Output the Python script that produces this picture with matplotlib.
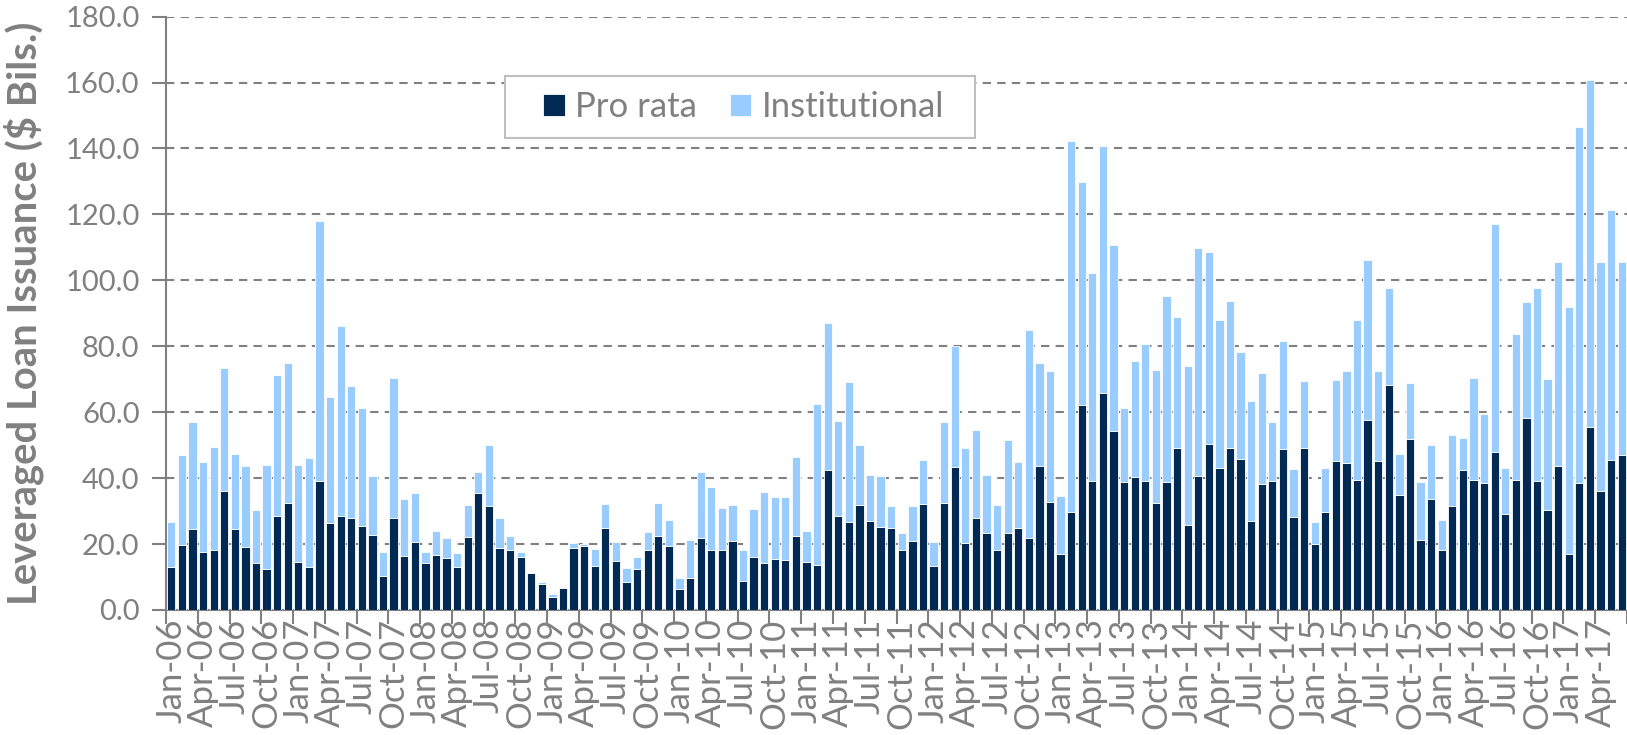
import numpy as np
import pandas as pd
import matplotlib
matplotlib.use('Agg')
import matplotlib.pyplot as plt
from matplotlib.patches import Rectangle
from matplotlib.ticker import FormatStrFormatter

# monthly categories, Jan-06 .. Jun-17
months = pd.date_range('2006-01-01', periods=138, freq='MS')
month_labels = [m.strftime('%b-%y') for m in months]

# $ billions
pro_rata = [
    13.0, 19.6, 24.5, 17.7, 18.1, 36.2, 24.5, 19.0, 14.2, 12.4, 28.6, 32.6,
    14.7, 13.0, 39.0, 26.5, 28.4, 27.8, 25.5, 22.9, 10.3, 27.9, 16.4, 20.7,
    14.2, 16.7, 15.9, 12.9, 22.0, 35.4, 31.6, 18.9, 18.3, 16.1, 11.1, 7.8,
    4.0, 6.6, 18.8, 19.3, 13.2, 24.8, 14.9, 8.4, 12.4, 18.3, 22.3, 19.3,
    6.3, 9.6, 21.9, 18.3, 18.1, 20.8, 8.9, 16.1, 14.4, 15.5, 15.3, 22.3,
    14.7, 13.7, 42.5, 28.4, 26.6, 31.9, 27.1, 25.2, 25.0, 18.1, 20.8, 32.1,
    13.2, 32.6, 43.4, 20.2, 27.9, 23.5, 18.1, 23.5, 24.8, 21.9, 43.7, 32.9,
    17.1, 29.8, 62.1, 39.0, 65.9, 54.2, 38.7, 40.2, 39.0, 32.5, 38.7, 49.2,
    25.9, 40.7, 50.4, 43.1, 49.2, 45.8, 27.1, 38.1, 39.1, 48.7, 28.2, 49.2,
    20.0, 29.8, 45.2, 44.6, 39.5, 57.5, 45.1, 68.1, 34.9, 51.9, 21.3, 33.8,
    18.3, 31.6, 42.4, 39.5, 38.4, 47.8, 29.2, 39.4, 58.1, 39.0, 30.4, 43.6,
    17.1, 38.4, 55.6, 36.1, 45.4, 47.0,
]
institutional = [
    13.7, 27.3, 32.5, 27.2, 31.4, 37.2, 22.9, 24.6, 16.0, 31.6, 42.6, 42.3,
    29.3, 33.1, 78.9, 38.1, 57.8, 40.1, 35.8, 17.7, 7.4, 42.6, 17.3, 14.9,
    3.4, 7.4, 5.8, 4.4, 9.8, 6.4, 18.3, 9.0, 4.0, 1.5, 0.2, 0.7,
    0.8, 0.5, 1.4, 0.7, 5.3, 7.5, 5.7, 4.4, 3.7, 5.5, 10.2, 8.1,
    3.3, 11.7, 20.0, 19.1, 12.9, 11.1, 9.2, 14.6, 21.5, 18.8, 19.0, 24.1,
    9.2, 48.8, 44.5, 28.9, 42.7, 18.0, 13.9, 15.4, 6.4, 5.2, 10.8, 13.3,
    7.4, 24.3, 36.6, 28.8, 26.6, 17.5, 13.8, 28.0, 20.1, 63.1, 31.2, 39.7,
    17.4, 112.4, 67.6, 63.3, 74.7, 56.5, 22.6, 35.4, 41.6, 40.2, 56.6, 39.7,
    48.2, 69.0, 58.3, 45.0, 44.5, 32.4, 36.3, 33.7, 17.9, 32.8, 14.6, 20.2,
    6.8, 13.4, 24.5, 27.8, 48.5, 48.8, 27.3, 29.5, 12.5, 17.1, 17.6, 16.1,
    9.0, 21.5, 9.9, 30.9, 21.2, 69.2, 14.0, 44.4, 35.2, 58.8, 39.6, 62.1,
    74.8, 108.2, 105.3, 69.6, 75.9, 58.7,
]

plt.rcParams['font.family'] = ['Lato', 'DejaVu Sans']
grey = '#808080'
dark = '#002A54'
light = '#99CCFF'

W, H = 1627, 735
fig = plt.figure(figsize=(W / 100, H / 100), dpi=100)
ax = fig.add_axes([166 / W, (H - 610) / H, (W - 166) / W, (610 - 16.6) / H])

x = np.arange(len(months))
ax.bar(x, pro_rata, width=0.78, color=dark, edgecolor='white', linewidth=0.6,
       label='Pro rata', zorder=3)
ax.bar(x, institutional, bottom=pro_rata, width=0.78, color=light,
       edgecolor='white', linewidth=0.6, label='Institutional', zorder=3)

ax.set_xlim(-0.5, len(months) - 0.5)
ax.set_ylim(0, 180)
ax.set_yticks(np.arange(0, 181, 20))
ax.yaxis.set_major_formatter(FormatStrFormatter('%.1f'))
ax.grid(axis='y', color=grey, linestyle=(0, (4, 3)), linewidth=1.5, zorder=0)

# tick marks between categories, labels on every third month
ax.set_xticks(np.arange(-0.5, len(months), 3))
ax.set_xticklabels([])
ax.set_xticks(x[::3], minor=True)
ax.set_xticklabels(month_labels[::3], minor=True, rotation=90)
ax.tick_params(axis='x', which='major', length=10, width=1.5, color=grey)
ax.tick_params(axis='x', which='minor', length=0, pad=6, labelsize=25,
               labelcolor=grey)
ax.tick_params(axis='y', length=10, width=1.5, color=grey, pad=9,
               labelsize=21, labelcolor=grey)

for s in ['top', 'right']:
    ax.spines[s].set_visible(False)
for s in ['left', 'bottom']:
    ax.spines[s].set_color(grey)
    ax.spines[s].set_linewidth(1.5)

ax.set_ylabel('Leveraged Loan Issuance ($ Bils.)', fontsize=28.8,
              fontweight='bold', color=grey)
ax.yaxis.set_label_coords((44 - 166) / (W - 166), 0.5)

# legend box drawn by hand, entries placed inside it
box = Rectangle((505 / W, 1 - 138 / H), 470 / W, 62 / H,
                transform=fig.transFigure, facecolor='white',
                edgecolor='#bfbfbf', linewidth=1.5, zorder=5, clip_on=False)
ax.add_patch(box)
leg = ax.legend(ncol=2, loc='center left',
                bbox_to_anchor=(543 / W, 1 - 107 / H),
                bbox_transform=fig.transFigure, fontsize=25, frameon=False,
                handlelength=0.62, handleheight=0.62, handletextpad=0.3,
                columnspacing=0.95, borderpad=0, borderaxespad=0,
                labelcolor=grey)
leg.set_zorder(6)

fig.savefig('out.png', dpi=100)
